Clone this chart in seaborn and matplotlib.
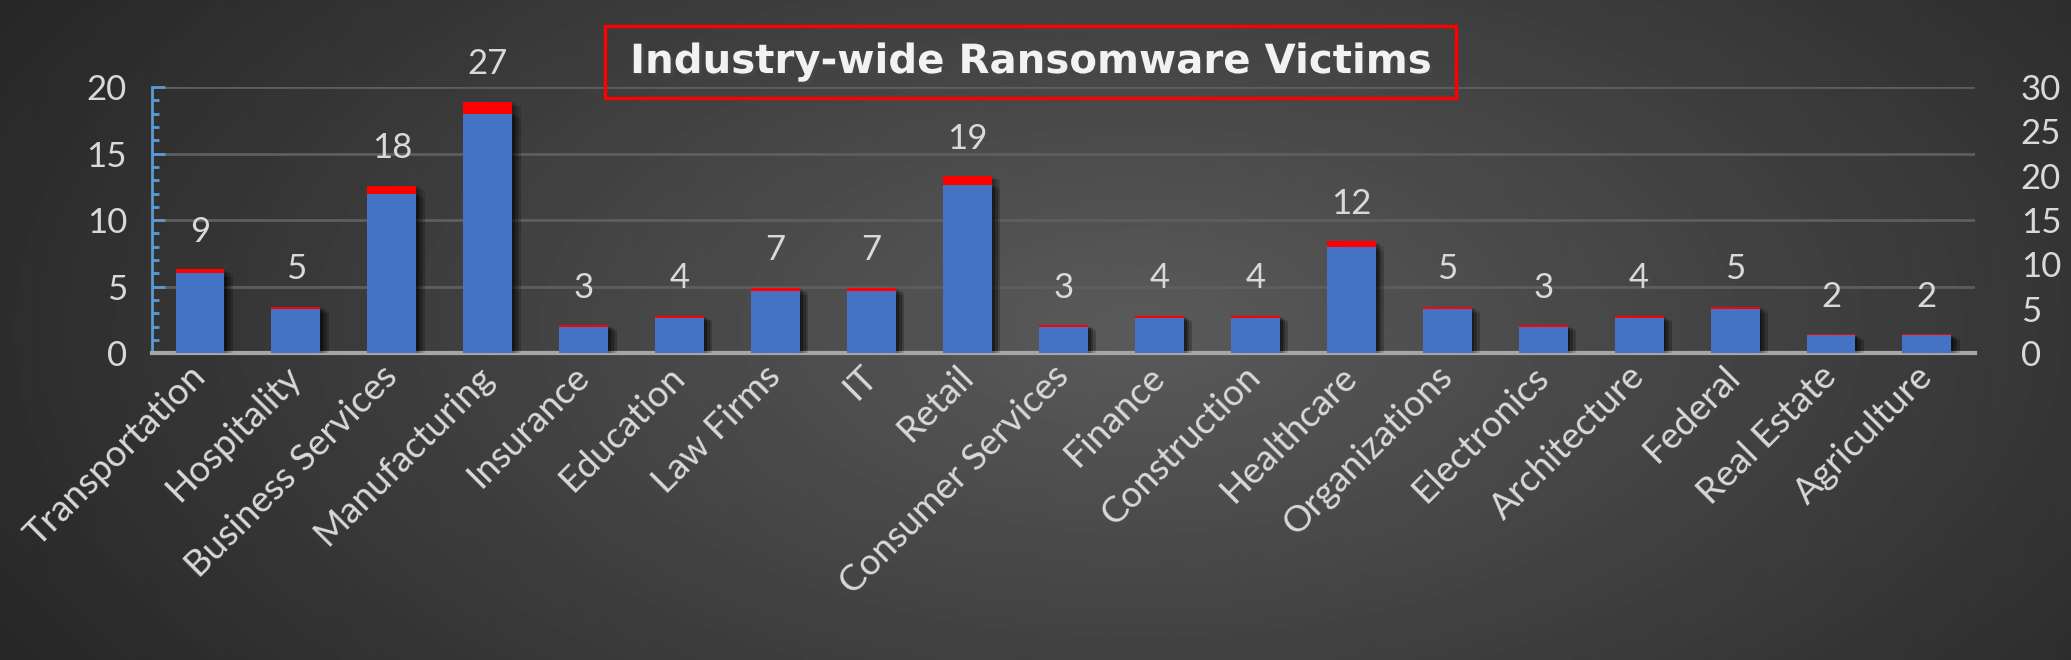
import numpy as np
import pandas as pd
import matplotlib
matplotlib.use("Agg")
import matplotlib.pyplot as plt
import matplotlib.patheffects as pe
from matplotlib.patches import Rectangle
from matplotlib.ticker import MultipleLocator
import seaborn as sns

# data
industries = ["Transportation", "Hospitality", "Business Services", "Manufacturing",
              "Insurance", "Education", "Law Firms", "IT", "Retail", "Consumer Services",
              "Finance", "Construction", "Healthcare", "Organizations", "Electronics",
              "Architecture", "Federal", "Real Estate", "Agriculture"]
victims = [9, 5, 18, 27, 3, 4, 7, 7, 19, 3, 4, 4, 12, 5, 3, 4, 5, 2, 2]
# red bars on the left axis (share of all victims, %)
share_pct = [6.3, 3.5, 12.6, 18.9, 2.1, 2.8, 4.9, 4.9, 13.3, 2.1,
             2.8, 2.8, 8.4, 3.5, 2.1, 2.8, 3.5, 1.4, 1.4]
left_ticks = [0, 5, 10, 15, 20]
right_ticks = [0, 5, 10, 15, 20, 25, 30]
title = "Industry-wide Ransomware Victims"

df = pd.DataFrame({"industry": industries, "victims": victims, "share": share_pct})

txt_col = "#D9D9D9"
plt.rcParams["font.family"] = ["Lato", "DejaVu Sans"]

fig = plt.figure(figsize=(20.71, 6.6), dpi=100)

# dark radial background
bg = fig.add_axes([0, 0, 1, 1], zorder=-10)
bg.axis("off")
yy, xx = np.mgrid[0:1:330j, 0:1:1036j]
r = np.sqrt(((xx - 0.55) / 0.62) ** 2 + ((yy - 0.5) / 1.0) ** 2)
shade = np.clip(0.355 - 0.2 * r, 0.13, 0.4)
bg.imshow(shade, cmap="gray", vmin=0, vmax=1, aspect="auto", extent=[0, 1, 0, 1])

ax = fig.add_axes([0.0734, 0.465, 0.8802, 0.403])
ax.patch.set_alpha(0)
sns.barplot(data=df, x="industry", y="share", color="#FF0000", width=0.51,
            saturation=1, ax=ax)
ax2 = ax.twinx()
sns.barplot(data=df, x="industry", y="victims", color="#4472C4", width=0.51,
            saturation=1, ax=ax2)

# soft drop shadow on the bars
shadow = [pe.SimplePatchShadow(offset=(6, -3), shadow_rgbFace="black", alpha=0.12),
          pe.SimplePatchShadow(offset=(4, -2), shadow_rgbFace="black", alpha=0.15),
          pe.SimplePatchShadow(offset=(2, -1), shadow_rgbFace="black", alpha=0.2),
          pe.Normal()]
for p in ax.patches + ax2.patches:
    p.set_path_effects(shadow)

ax.set_xlim(-0.5, len(industries) - 0.5)
ax.set_ylim(0, 20)
ax2.set_ylim(0, 30)
ax.set_yticks(left_ticks)
ax.yaxis.set_minor_locator(MultipleLocator(1))
ax2.set_yticks(right_ticks)
ax.set_xlabel("")
ax.set_ylabel("")
ax2.set_ylabel("")

ax.set_axisbelow(True)
ax.yaxis.grid(True, color="#5E5E5E", lw=2)

for s in ["top", "right"]:
    ax.spines[s].set_visible(False)
for s in ax2.spines.values():
    s.set_visible(False)
ax.spines["left"].set_color("#5B9BD5")
ax.spines["left"].set_linewidth(2)
ax.spines["bottom"].set_color("#A6A6A6")
ax.spines["bottom"].set_linewidth(3)

ax.tick_params(axis="y", which="major", direction="in", color="#5B9BD5", length=9, width=2,
               labelsize=25, labelcolor=txt_col, pad=18)
ax.tick_params(axis="y", which="minor", direction="in", color="#5B9BD5", length=5, width=2)
ax2.tick_params(axis="y", length=0, labelsize=25, labelcolor=txt_col, pad=33)
ax.tick_params(axis="x", length=0, pad=13)
ax.set_xticks(range(len(industries)))
ax.set_xticklabels(industries, rotation=45, ha="right", va="center",
                   rotation_mode="anchor", fontsize=26.5, color=txt_col)

# counts above each bar
for i, (v, s) in enumerate(zip(victims, share_pct)):
    ax.annotate(str(v), (i, s), xytext=(0, 27), textcoords="offset points",
                ha="center", va="center", fontsize=25, color=txt_col)

# boxed title
fig.add_artist(Rectangle((0.292, 0.8515), 0.411, 0.109, transform=fig.transFigure,
                         fill=False, edgecolor="#FF0000", lw=2.4))
fig.text(0.4975, 0.906, title, ha="center", va="center", fontsize=29,
         fontweight="bold", color="#F2F2F2", family=["DejaVu Sans"],
         path_effects=[pe.SimplePatchShadow(offset=(2, -2), alpha=0.7), pe.Normal()])

fig.savefig("out.png", dpi=100)
